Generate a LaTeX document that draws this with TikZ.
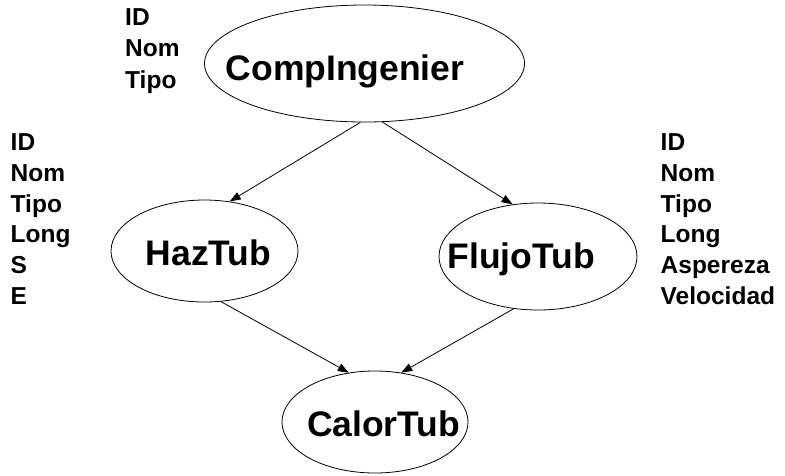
\documentclass[tikz,border=0pt]{standalone}
\usepackage{fontspec}
\setmainfont{Liberation Sans}
\usetikzlibrary{shapes.geometric, arrows.meta}

\begin{document}
\begin{tikzpicture}[
  x=1pt, y=-1pt,
  entity/.style={ellipse, draw=black, line width=0.8pt, inner sep=0pt},
  title/.style={anchor=base west, inner sep=0pt, font=\fontsize{35.5}{42}\selectfont\bfseries},
  attr/.style={anchor=base west, inner sep=0pt, font=\fontsize{24.5}{29}\selectfont\bfseries},
  arrow/.style={line width=0.8pt, -{Triangle[length=11pt, width=8pt]}}
]
\useasboundingbox (0,0) rectangle (785,475);

% Entities
\node (comp) [entity, minimum width=320pt, minimum height=117pt] at (364.5,63.5) {};
\node (haz) [entity, minimum width=187pt, minimum height=102pt] at (204.5,251) {};
\node (flujo) [entity, minimum width=198pt, minimum height=107pt] at (538,256.5) {};
\node (calor) [entity, minimum width=186pt, minimum height=102pt] at (375,422) {};

% Entity names
\node (compT) [title] at (225.5,80) {CompIngenier};
\node (hazT) [title] at (145.5,265) {HazTub};
\node (flujoT) [title] at (447.5,268) {FlujoTub};
\node (calorT) [title] at (306.8,436.7) {CalorTub};

% Attributes
\foreach \t [count=\i] in {ID,Nom,Tipo}
  \node (compA\i) [attr] at (125, {25.2+31.6*(\i-1)}) {\t};
\foreach \t [count=\i] in {ID,Nom,Tipo,Long,S,E}
  \node (hazA\i) [attr] at (10.5, {150.7+30.7*(\i-1)}) {\t};
\foreach \t [count=\i] in {ID,Nom,Tipo,Long,Aspereza,Velocidad}
  \node (flujoA\i) [attr] at (660.5, {150.7+30.7*(\i-1)}) {\t};

% Arrows
\draw [arrow] (comp.266) -- (haz.63);
\draw [arrow] (comp.287) -- (flujo.116);
\draw [arrow] (haz.288) -- (calor.118);
\draw [arrow] (flujo.245) -- (calor.62);
\end{tikzpicture}
\end{document}
